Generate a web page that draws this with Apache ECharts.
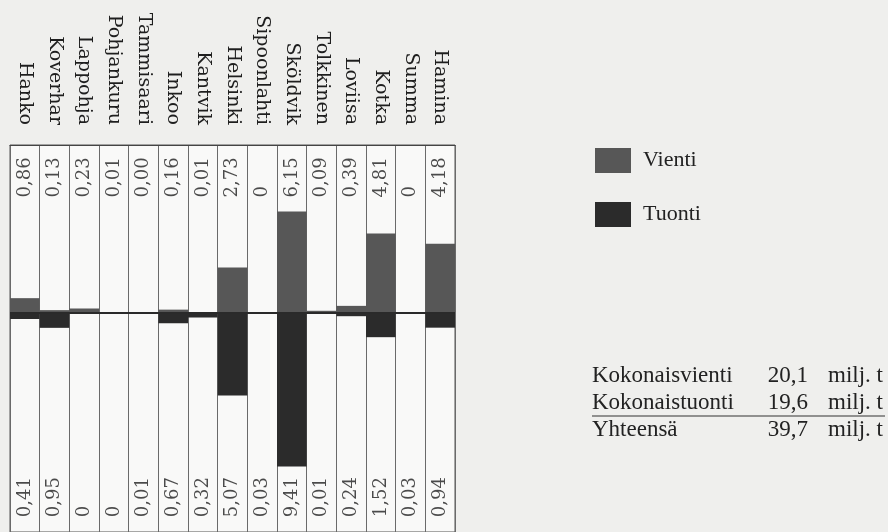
<!DOCTYPE html>
<html>
<head>
<meta charset="utf-8" />
<title>Vienti ja tuonti satamittain</title>
<script src="https://cdn.jsdelivr.net/npm/echarts@6/dist/echarts.min.js"></script>
<style>
  html, body { margin: 0; padding: 0; background: #efefed; }
  #main { width: 888px; height: 532px; }
</style>
</head>
<body>
<div id="main"></div>
<script>
// satamat, vienti ja tuonti (milj. t)
var ports = ['Hanko', 'Koverhar', 'Lappohja', 'Pohjankuru', 'Tammisaari', 'Inkoo', 'Kantvik',
  'Helsinki', 'Sipoonlahti', 'Sköldvik', 'Tolkkinen', 'Loviisa', 'Kotka', 'Summa', 'Hamina'];
var vientiText = ['0,86', '0,13', '0,23', '0,01', '0,00', '0,16', '0,01', '2,73', '0', '6,15',
  '0,09', '0,39', '4,81', '0', '4,18'];
var tuontiText = ['0,41', '0,95', '0', '0', '0,01', '0,67', '0,32', '5,07', '0,03', '9,41',
  '0,01', '0,24', '1,52', '0,03', '0,94'];
var totals = [
  ['Kokonaisvienti', '20,1', 'milj. t'],
  ['Kokonaistuonti', '19,6', 'milj. t'],
  ['Yhteensä', '39,7', 'milj. t']
];

function num(s) { return parseFloat(s.replace(',', '.')); }
var vienti = vientiText.map(num);
var tuonti = tuontiText.map(function (s) { return -num(s); });

var colText = '"DejaVu Serif", serif';
var bookFont = '"Liberation Serif", "Times New Roman", serif';

// value label anchors (axis units)
var topLabelAt = 7.0;
var bottomLabelAt = -12.5;

var chart = echarts.init(document.getElementById('main'));

var graphics = [];
totals.forEach(function (r, i) {
  var y = 376 + i * 27;
  graphics.push({ type: 'text', x: 592, y: y, style: { text: r[0], font: '23px ' + bookFont, fill: '#222', align: 'left', verticalAlign: 'middle' } });
  graphics.push({ type: 'text', x: 808, y: y, style: { text: r[1], font: '23px ' + bookFont, fill: '#222', align: 'right', verticalAlign: 'middle' } });
  graphics.push({ type: 'text', x: 828, y: y, style: { text: r[2], font: '23px ' + bookFont, fill: '#222', align: 'left', verticalAlign: 'middle' } });
});
graphics.push({ type: 'line', shape: { x1: 592, y1: 416, x2: 885, y2: 416 }, style: { stroke: '#333', lineWidth: 1.2 } });

function valueLabels(texts, at) {
  return {
    type: 'scatter',
    silent: true,
    symbolSize: 0,
    data: texts.map(function (t, i) { return [i, at]; }),
    label: {
      show: true,
      position: 'inside',
      rotate: 90,
      align: 'left',
      verticalAlign: 'middle',
      fontFamily: colText,
      fontSize: 18,
      color: '#1e1e1e',
      formatter: function (p) { return texts[p.dataIndex]; }
    },
    z: 5
  };
}

chart.setOption({
  backgroundColor: '#efefed',
  animation: false,
  grid: {
    left: 10, right: 433, top: 145, bottom: 0,
    show: true, backgroundColor: '#f9f9f8', borderColor: '#555', borderWidth: 1
  },
  legend: {
    orient: 'vertical',
    left: 590, top: 143,
    itemWidth: 36, itemHeight: 25, itemGap: 29,
    icon: 'rect',
    data: ['Vienti', 'Tuonti'],
    textStyle: { fontFamily: bookFont, fontSize: 22, color: '#222', padding: [0, 0, 0, 7], lineHeight: 25 }
  },
  xAxis: {
    type: 'category',
    position: 'top',
    data: ports,
    axisLine: { onZero: false, lineStyle: { color: '#444', width: 1 } },
    axisTick: { show: false },
    splitLine: { show: true, interval: 0, lineStyle: { color: '#6a6a6a', width: 1 } },
    axisLabel: { interval: 0, rotate: 90, margin: 20, fontFamily: colText, fontSize: 19, color: '#1e1e1e' }
  },
  yAxis: {
    type: 'value',
    min: -13.4, max: 10.2,
    show: false,
    splitLine: { show: false }
  },
  series: [
    {
      name: 'Vienti', type: 'bar', data: vienti,
      barGap: '-100%', barCategoryGap: '0%',
      itemStyle: { color: '#575757' },
      markLine: {
        silent: true, symbol: 'none', label: { show: false },
        lineStyle: { color: '#2a2a2a', width: 2, type: 'solid' },
        data: [{ yAxis: 0 }]
      }
    },
    {
      name: 'Tuonti', type: 'bar', data: tuonti,
      barGap: '-100%', barCategoryGap: '0%',
      itemStyle: { color: '#2b2b2b' }
    },
    valueLabels(vientiText, topLabelAt),
    valueLabels(tuontiText, bottomLabelAt)
  ],
  graphic: graphics
});
</script>
</body>
</html>
